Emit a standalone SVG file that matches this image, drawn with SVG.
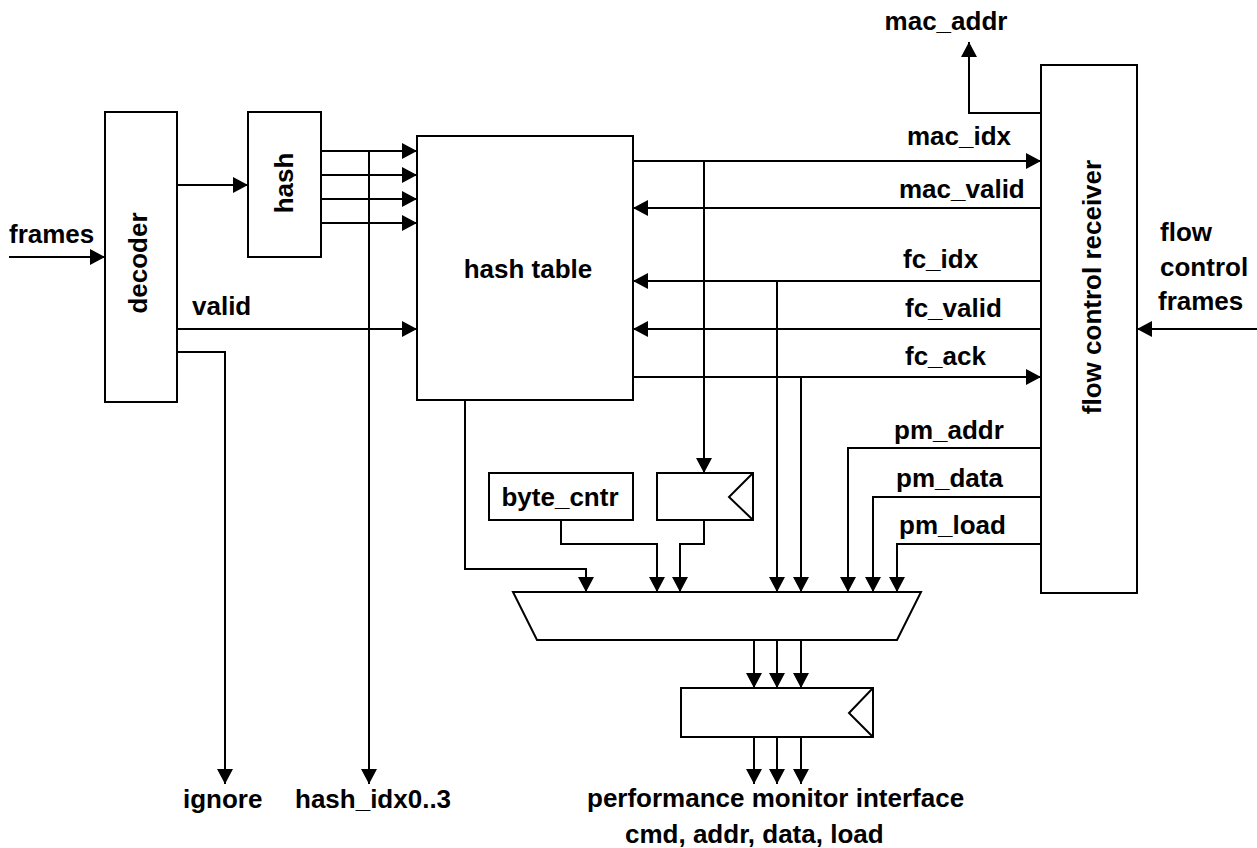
<svg xmlns="http://www.w3.org/2000/svg" width="1257" height="848" viewBox="0 0 1257 848">
<style>
.b{fill:#fff;stroke:#000;stroke-width:2}
.w{fill:none;stroke:#000;stroke-width:2}
.a{marker-end:url(#ah)}
text{font-family:"Liberation Sans",Arial,sans-serif;font-weight:bold;font-size:26px;fill:#000}
</style>
<defs>
<marker id="ah" markerUnits="userSpaceOnUse" markerWidth="15" markerHeight="16" refX="15" refY="8" orient="auto">
<path d="M0,0 L15,8 L0,16 z" fill="#000"/>
</marker>
</defs>
<rect width="1257" height="848" fill="#fff"/>
<g id="connectors">
<path class="w a" d="M9,257 H105"/>
<path class="w a" d="M177,185 H248"/>
<path class="w a" d="M321,151 H417"/>
<path class="w a" d="M321,175 H417"/>
<path class="w a" d="M321,199 H417"/>
<path class="w a" d="M321,223 H417"/>
<path class="w a" d="M369,151 V784"/>
<path class="w a" d="M177,329 H417"/>
<path class="w a" d="M177,352 H225 V784"/>
<path class="w a" d="M633,161 H1041"/>
<path class="w a" d="M1041,208 H633"/>
<path class="w a" d="M1041,281 H633"/>
<path class="w a" d="M1041,329 H633"/>
<path class="w a" d="M633,377 H1041"/>
<path class="w a" d="M1041,113 H969 V42"/>
<path class="w a" d="M1257,329 H1137"/>
<path class="w a" d="M704,161 V473"/>
<path class="w a" d="M465,400 V569 H586 V592"/>
<path class="w a" d="M561,520 V544 H657 V592"/>
<path class="w a" d="M704,520 V544 H680 V592"/>
<path class="w a" d="M777,281 V592"/>
<path class="w a" d="M801,377 V592"/>
<path class="w a" d="M1041,448 H848 V592"/>
<path class="w a" d="M1041,497 H873 V592"/>
<path class="w a" d="M1041,544 H897 V592"/>
<path class="w a" d="M754,640 V688"/>
<path class="w a" d="M777,640 V688"/>
<path class="w a" d="M801,640 V688"/>
<path class="w a" d="M754,737 V784"/>
<path class="w a" d="M777,737 V784"/>
<path class="w a" d="M801,737 V784"/>
</g>
<g id="decoder">
<rect class="b" x="105" y="112" width="72" height="290"/>
<text transform="translate(147,263) rotate(-90)" text-anchor="middle">decoder</text>
</g>
<g id="hash">
<rect class="b" x="248" y="112" width="73" height="145"/>
<text transform="translate(293,183) rotate(-90)" text-anchor="middle">hash</text>
</g>
<g id="hash_table">
<rect class="b" x="417" y="136" width="216" height="264"/>
<text x="528" y="278" text-anchor="middle">hash table</text>
</g>
<g id="flow_control_receiver">
<rect class="b" x="1041" y="65" width="96" height="528"/>
<text transform="translate(1101,287) rotate(-90)" text-anchor="middle">flow control receiver</text>
</g>
<g id="byte_cntr">
<rect class="b" x="489" y="473" width="144" height="47"/>
<text x="560" y="506" text-anchor="middle">byte_cntr</text>
</g>
<g id="register1">
<rect class="b" x="657" y="473" width="96" height="47"/>
<path class="w" d="M753,473 L729,497 L753,520"/>
</g>
<g id="mux">
<path class="b" d="M513,592 H921 L897,640 H537 Z"/>
</g>
<g id="register2">
<rect class="b" x="681" y="688" width="192" height="49"/>
<path class="w" d="M873,688 L849,713 L873,737"/>
</g>
<g id="labels">
<text x="9" y="243">frames</text>
<text x="192" y="315">valid</text>
<text x="946" y="30" text-anchor="middle">mac_addr</text>
<text x="907" y="145">mac_idx</text>
<text x="899" y="198">mac_valid</text>
<text x="903" y="268">fc_idx</text>
<text x="905" y="317">fc_valid</text>
<text x="905" y="365">fc_ack</text>
<text x="894" y="439">pm_addr</text>
<text x="896" y="487">pm_data</text>
<text x="899" y="534">pm_load</text>
<text x="1160" y="241">flow</text>
<text x="1160" y="276">control</text>
<text x="1158" y="310">frames</text>
<text x="183" y="808">ignore</text>
<text x="295" y="808">hash_idx0..3</text>
<text x="587" y="807">performance monitor interface</text>
<text x="625" y="843">cmd, addr, data, load</text>
</g>
</svg>
